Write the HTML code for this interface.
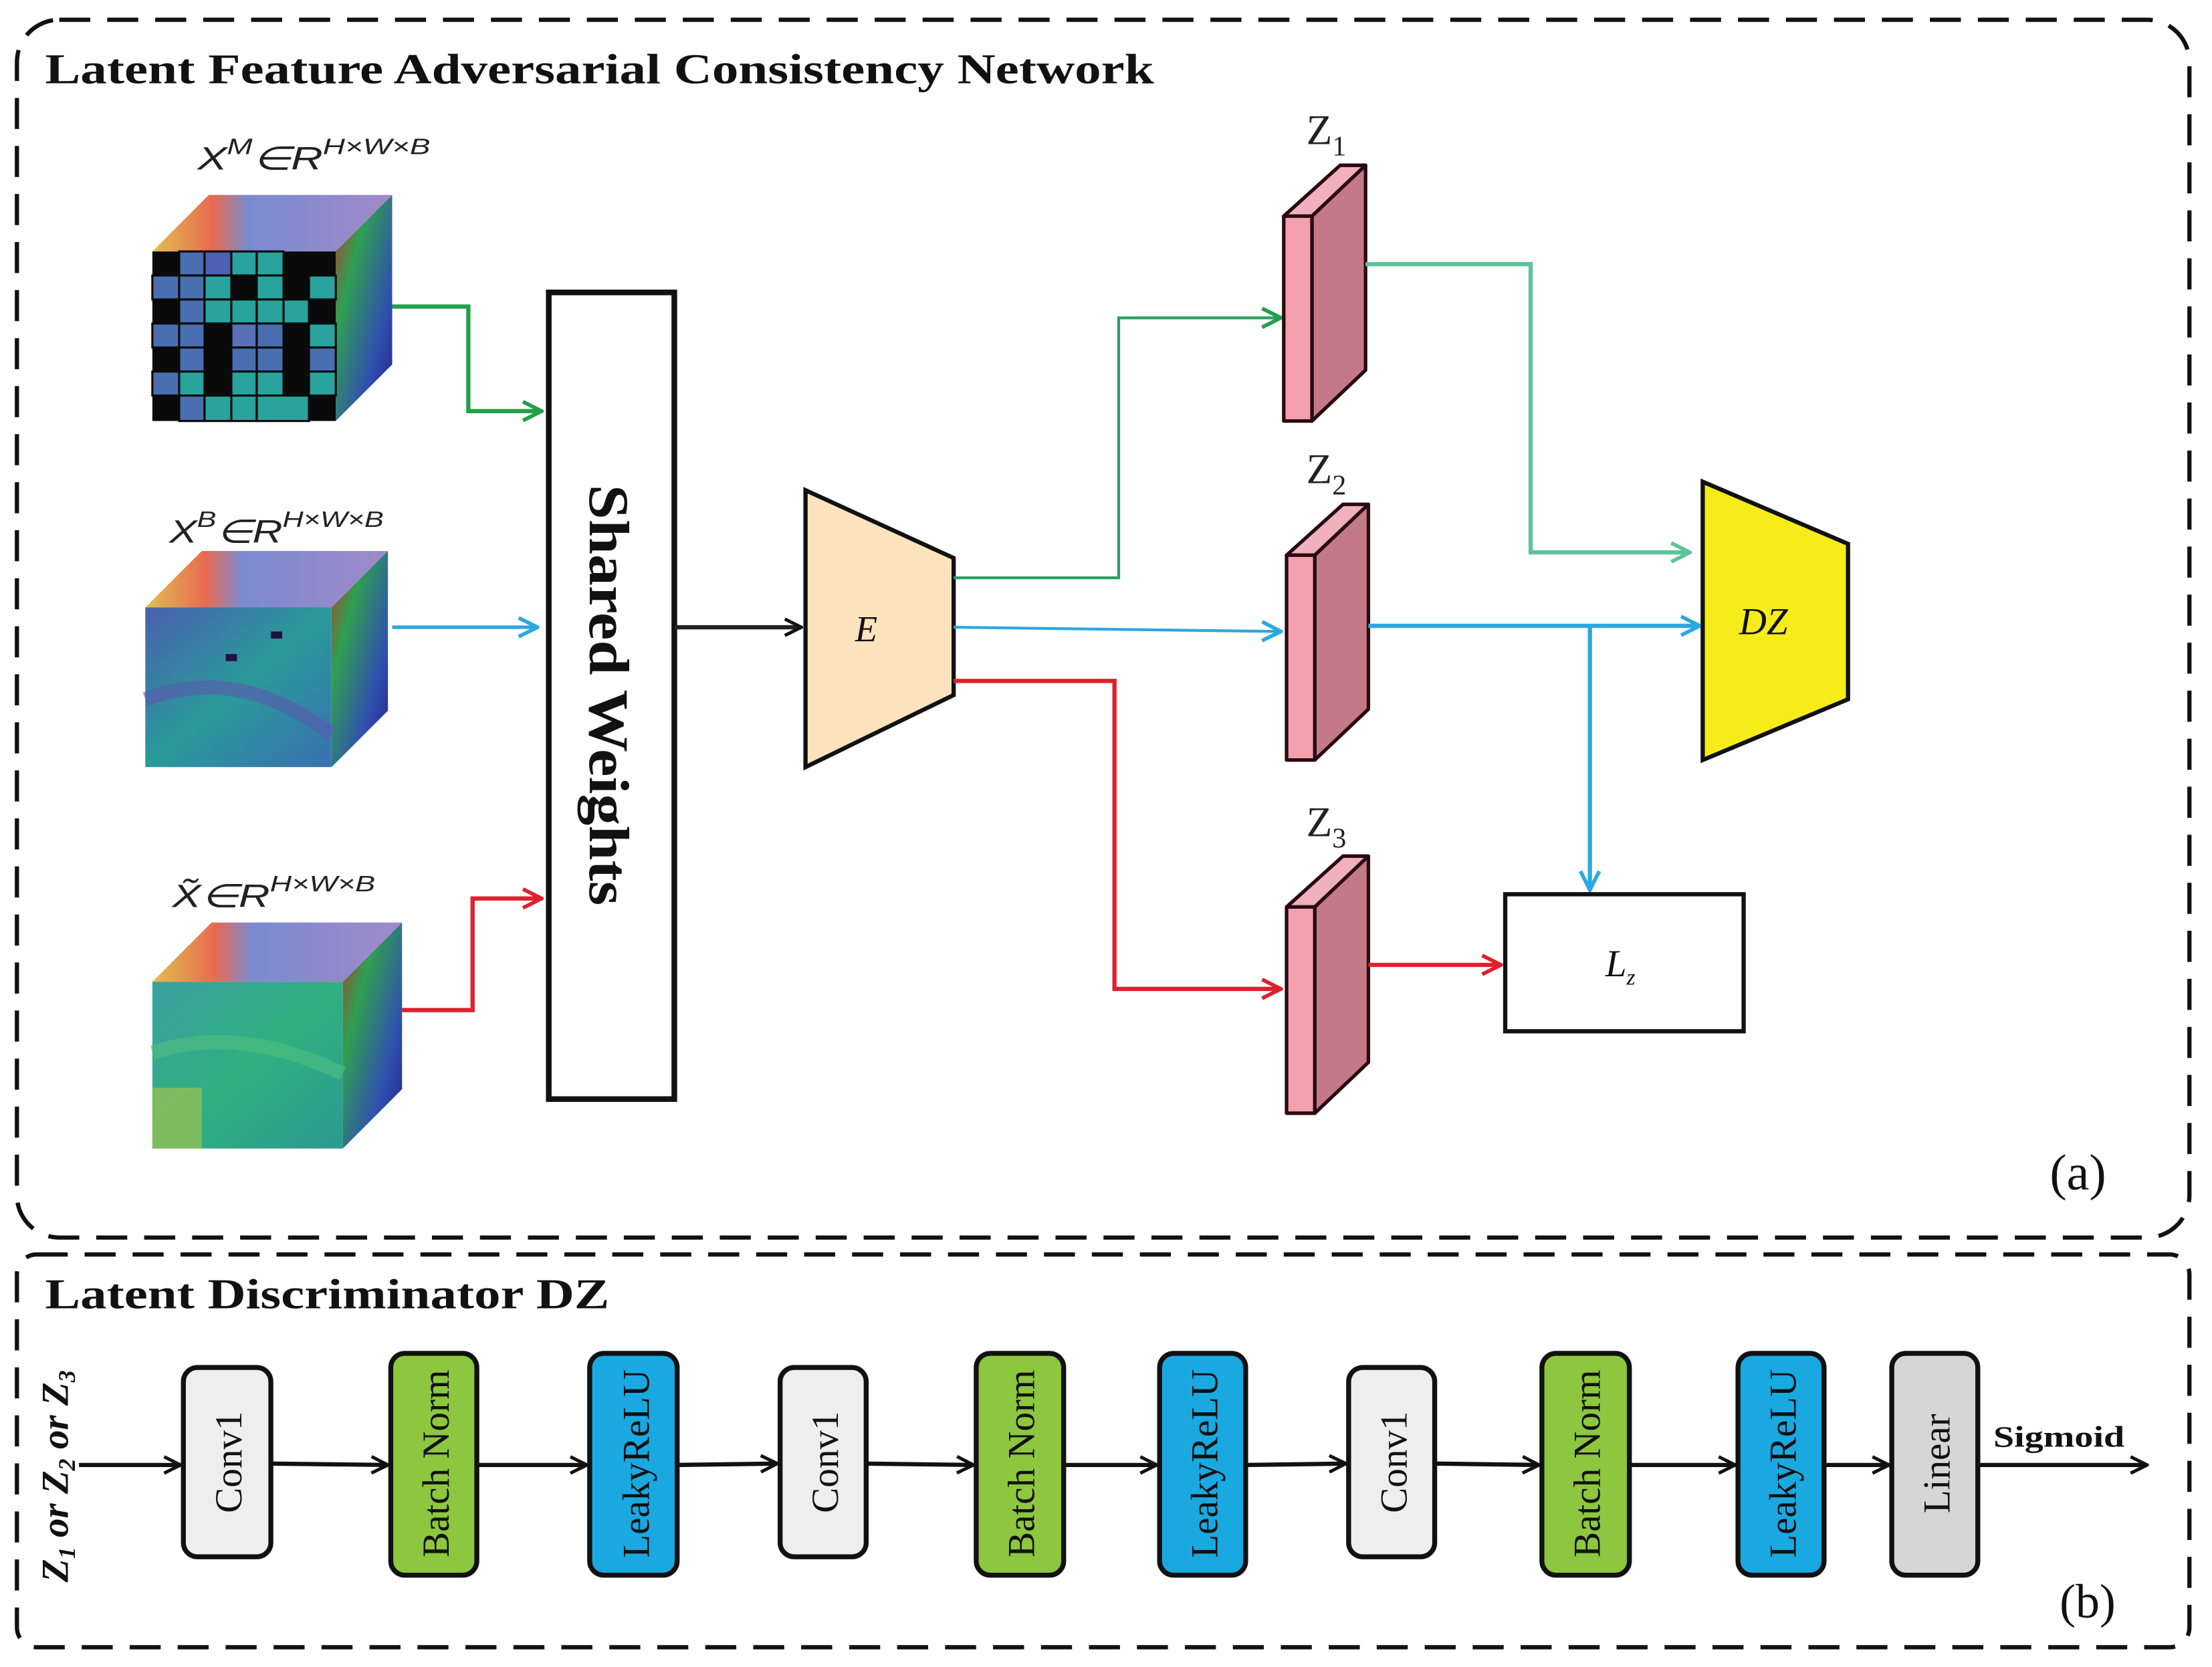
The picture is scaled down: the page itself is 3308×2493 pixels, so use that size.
<!DOCTYPE html>
<html><head><meta charset="utf-8"><style>
html,body{margin:0;padding:0;background:#fff;}
svg{display:block;}
</style></head><body>
<svg width="3308" height="2493" viewBox="0 0 1568 1180" preserveAspectRatio="none" xmlns="http://www.w3.org/2000/svg">
<defs>
<marker id="mk" viewBox="0 0 12 12" refX="11" refY="6" markerWidth="14" markerHeight="14" markerUnits="userSpaceOnUse" orient="auto"><path d="M1,1 L11,6 L1,11" fill="none" stroke="#111" stroke-width="2"/></marker>
<marker id="mg" viewBox="0 0 12 12" refX="11" refY="6" markerWidth="16" markerHeight="16" markerUnits="userSpaceOnUse" orient="auto"><path d="M1,1 L11,6 L1,11" fill="none" stroke="#22a04a" stroke-width="2"/></marker>
<marker id="mt" viewBox="0 0 12 12" refX="11" refY="6" markerWidth="16" markerHeight="16" markerUnits="userSpaceOnUse" orient="auto"><path d="M1,1 L11,6 L1,11" fill="none" stroke="#5cc49a" stroke-width="2"/></marker>
<marker id="mb" viewBox="0 0 12 12" refX="11" refY="6" markerWidth="16" markerHeight="16" markerUnits="userSpaceOnUse" orient="auto"><path d="M1,1 L11,6 L1,11" fill="none" stroke="#2aa8e0" stroke-width="2"/></marker>
<marker id="mr" viewBox="0 0 12 12" refX="11" refY="6" markerWidth="16" markerHeight="16" markerUnits="userSpaceOnUse" orient="auto"><path d="M1,1 L11,6 L1,11" fill="none" stroke="#e0202c" stroke-width="2"/></marker>
<linearGradient id="gtop" x1="0" y1="0" x2="1" y2="0"><stop offset="0" stop-color="#e0c050"/><stop offset="0.25" stop-color="#e86a50"/><stop offset="0.4" stop-color="#7a8ad0"/><stop offset="1" stop-color="#a08ac8"/></linearGradient>
<linearGradient id="gside" x1="0" y1="0" x2="1" y2="1"><stop offset="0" stop-color="#c03030"/><stop offset="0.3" stop-color="#30a050"/><stop offset="0.7" stop-color="#3050b0"/><stop offset="1" stop-color="#202080"/></linearGradient>
<linearGradient id="gf2" x1="0" y1="0" x2="1" y2="1"><stop offset="0" stop-color="#4a60b0"/><stop offset="0.5" stop-color="#2a9a9a"/><stop offset="1" stop-color="#3a70b0"/></linearGradient>
<linearGradient id="gf3" x1="0" y1="0" x2="1" y2="1"><stop offset="0" stop-color="#3aa0a0"/><stop offset="0.5" stop-color="#30b080"/><stop offset="1" stop-color="#2a9a90"/></linearGradient>
</defs>

<rect x="12" y="14" width="1540" height="862" rx="30" fill="none" stroke="#111" stroke-width="3" stroke-dasharray="22,12"/>
<rect x="12" y="888" width="1540" height="278" rx="14" fill="none" stroke="#111" stroke-width="3" stroke-dasharray="22,12"/>
<text x="32" y="59" font-family="Liberation Serif" font-weight="bold" font-size="30" fill="#111" textLength="786" lengthAdjust="spacingAndGlyphs">Latent Feature Adversarial Consistency Network</text>
<text x="32" y="926" font-family="Liberation Serif" font-weight="bold" font-size="30" fill="#111" textLength="400" lengthAdjust="spacingAndGlyphs">Latent Discriminator DZ</text>
<text x="1453" y="842" font-family="Liberation Serif" font-size="36" fill="#111">(a)</text>
<text x="1460" y="1145" font-family="Liberation Serif" font-size="34" fill="#111">(b)</text>

<!-- cube 1 -->
<polygon points="108,178 148,138 278,138 238,178" fill="url(#gtop)"/>
<polygon points="238,178 278,138 278,258 238,298" fill="url(#gside)"/>
<rect x="108" y="178" width="130" height="120" fill="#0a0a0a"/>
<g stroke="#0a0a0a" stroke-width="1.5">
<rect x="127" y="178" width="18" height="17" fill="#4a6fb0"/><rect x="145" y="178" width="19" height="17" fill="#5060b0"/><rect x="164" y="178" width="18" height="17" fill="#2aa39e"/><rect x="182" y="178" width="19" height="17" fill="#2aa39e"/>
<rect x="108" y="195" width="19" height="17" fill="#4a6fb0"/><rect x="127" y="195" width="18" height="17" fill="#4a6fb0"/><rect x="145" y="195" width="19" height="17" fill="#2aa39e"/><rect x="182" y="195" width="19" height="17" fill="#2aa39e"/><rect x="219" y="195" width="19" height="17" fill="#2aa39e"/>
<rect x="127" y="212" width="18" height="17" fill="#4a6fb0"/><rect x="145" y="212" width="19" height="17" fill="#2aa39e"/><rect x="164" y="212" width="18" height="17" fill="#2aa39e"/><rect x="182" y="212" width="19" height="17" fill="#2aa39e"/><rect x="201" y="212" width="18" height="17" fill="#2aa39e"/>
<rect x="108" y="229" width="19" height="17" fill="#4a6fb0"/><rect x="127" y="229" width="18" height="17" fill="#4a6fb0"/><rect x="164" y="229" width="18" height="17" fill="#5a70b8"/><rect x="182" y="229" width="19" height="17" fill="#4a6fb0"/><rect x="219" y="229" width="19" height="17" fill="#2aa39e"/>
<rect x="127" y="246" width="18" height="17" fill="#4a6fb0"/><rect x="164" y="246" width="18" height="17" fill="#4a6fb0"/><rect x="182" y="246" width="19" height="17" fill="#4a6fb0"/><rect x="219" y="246" width="19" height="17" fill="#4a6fb0"/>
<rect x="108" y="263" width="19" height="17" fill="#4a6fb0"/><rect x="127" y="263" width="18" height="17" fill="#2aa39e"/><rect x="164" y="263" width="18" height="17" fill="#2aa39e"/><rect x="182" y="263" width="19" height="17" fill="#2aa39e"/><rect x="219" y="263" width="19" height="17" fill="#2aa39e"/>
<rect x="127" y="280" width="18" height="18" fill="#4a6fb0"/><rect x="145" y="280" width="19" height="18" fill="#2aa39e"/><rect x="164" y="280" width="18" height="18" fill="#2aa39e"/><rect x="182" y="280" width="37" height="18" fill="#2aa39e"/>
</g>
<text x="140" y="120" font-family="Liberation Sans" font-style="italic" font-size="23" fill="#222" textLength="165" lengthAdjust="spacingAndGlyphs">X<tspan font-size="16" dy="-11">M</tspan><tspan dy="11">∈R</tspan><tspan font-size="16" dy="-11">H×W×B</tspan></text>

<!-- cube 2 -->
<polygon points="103,430 143,390 275,390 235,430" fill="url(#gtop)"/>
<polygon points="235,430 275,390 275,503 235,543" fill="url(#gside)"/>
<rect x="103" y="430" width="132" height="113" fill="url(#gf2)"/>
<path d="M103,495 Q170,470 235,520" stroke="#5a5ab0" stroke-width="10" fill="none" opacity="0.6"/>
<rect x="160" y="463" width="8" height="5" fill="#201040"/><rect x="192" y="447" width="8" height="5" fill="#201040"/>
<text x="120" y="384" font-family="Liberation Sans" font-style="italic" font-size="23" fill="#222" textLength="152" lengthAdjust="spacingAndGlyphs">X<tspan font-size="16" dy="-11">B</tspan><tspan dy="11">∈R</tspan><tspan font-size="16" dy="-11">H×W×B</tspan></text>

<!-- cube 3 -->
<polygon points="108,695 150,653 285,653 243,695" fill="url(#gtop)"/>
<polygon points="243,695 285,653 285,771 243,813" fill="url(#gside)"/>
<rect x="108" y="695" width="135" height="118" fill="url(#gf3)"/>
<path d="M108,745 Q170,725 243,760" stroke="#50c080" stroke-width="10" fill="none" opacity="0.6"/>
<rect x="108" y="770" width="35" height="43" fill="#a0c050" opacity="0.7"/>
<text x="122" y="642" font-family="Liberation Sans" font-style="italic" font-size="23" fill="#222" textLength="144" lengthAdjust="spacingAndGlyphs">X̃∈R<tspan font-size="16" dy="-11">H×W×B</tspan></text>

<rect x="389" y="207" width="89" height="571" fill="#fff" stroke="#111" stroke-width="4"/>
<text transform="translate(418,492) rotate(90)" text-anchor="middle" font-family="Liberation Serif" font-weight="bold" font-size="40" fill="#111" textLength="298" lengthAdjust="spacingAndGlyphs">Shared Weights</text>

<polyline points="278,217 332,217 332,291 384,291" fill="none" stroke="#22a04a" stroke-width="3" marker-end="url(#mg)"/>
<line x1="278" y1="444" x2="381" y2="444" stroke="#2aa8e0" stroke-width="2.5" marker-end="url(#mb)"/>
<polyline points="285,715 335,715 335,636 384,636" fill="none" stroke="#e0202c" stroke-width="3" marker-end="url(#mr)"/>
<line x1="478" y1="444" x2="568" y2="444" stroke="#222" stroke-width="3" marker-end="url(#mk)"/>

<polygon points="571,347 676,395 676,492 571,543" fill="#fde3bd" stroke="#111" stroke-width="3"/>
<text x="614" y="454" text-anchor="middle" font-family="Liberation Serif" font-style="italic" font-size="26" fill="#111">E</text>

<polyline points="676,409 793,409 793,225 908,225" fill="none" stroke="#2aa060" stroke-width="2" marker-end="url(#mg)"/>
<line x1="676" y1="444" x2="908" y2="447" stroke="#2aa8e0" stroke-width="2" marker-end="url(#mb)"/>
<polyline points="676,482 790,482 790,700 908,700" fill="none" stroke="#e0202c" stroke-width="3" marker-end="url(#mr)"/>

<g stroke="#2a0a10" stroke-width="2.5" stroke-linejoin="round">
<polygon points="910,153 950,117 968,117 930,153" fill="#f0b0bc"/>
<polygon points="930,153 968,117 968,262 930,298" fill="#c47a86"/>
<rect x="910" y="153" width="20" height="145" fill="#f2a0ae"/>
<polygon points="912,393 952,357 970,357 932,393" fill="#f0b0bc"/>
<polygon points="932,393 970,357 970,502 932,538" fill="#c47a86"/>
<rect x="912" y="393" width="20" height="145" fill="#f2a0ae"/>
<polygon points="912,642 952,606 970,606 932,642" fill="#f0b0bc"/>
<polygon points="932,642 970,606 970,752 932,788" fill="#c47a86"/>
<rect x="912" y="642" width="20" height="146" fill="#f2a0ae"/>
</g>
<text x="926" y="102" font-family="Liberation Serif" font-size="30" fill="#222">Z<tspan font-size="20" dy="8">1</tspan></text>
<text x="926" y="342" font-family="Liberation Serif" font-size="30" fill="#222">Z<tspan font-size="20" dy="8">2</tspan></text>
<text x="926" y="592" font-family="Liberation Serif" font-size="30" fill="#222">Z<tspan font-size="20" dy="8">3</tspan></text>

<polyline points="968,187 1085,187 1085,391 1198,391" fill="none" stroke="#5cc49a" stroke-width="3" marker-end="url(#mt)"/>
<line x1="970" y1="443" x2="1205" y2="443" stroke="#2aa8e0" stroke-width="3" marker-end="url(#mb)"/>
<line x1="1127" y1="443" x2="1127" y2="630" stroke="#2aa8e0" stroke-width="3" marker-end="url(#mb)"/>
<line x1="970" y1="683" x2="1064" y2="683" stroke="#e0202c" stroke-width="3" marker-end="url(#mr)"/>

<polygon points="1207,341 1310,385 1310,495 1207,538" fill="#f5ec1a" stroke="#111" stroke-width="3"/>
<text x="1250" y="449" text-anchor="middle" font-family="Liberation Serif" font-style="italic" font-size="27" fill="#111">DZ</text>

<rect x="1067" y="633" width="169" height="97" fill="#fff" stroke="#111" stroke-width="3"/>
<text x="1138" y="691" font-family="Liberation Serif" font-style="italic" font-size="27" fill="#111">L<tspan font-size="16" dy="6">z</tspan></text>

<text transform="translate(48,1045) rotate(-90)" text-anchor="middle" font-family="Liberation Serif" font-weight="bold" font-style="italic" font-size="27" fill="#111">Z<tspan font-size="17" dy="5">1</tspan><tspan dy="-5"> or Z</tspan><tspan font-size="17" dy="5">2</tspan><tspan dy="-5"> or Z</tspan><tspan font-size="17" dy="5">3</tspan></text>
<g stroke="#111" stroke-width="3" marker-end="url(#mk)">
<line x1="56" y1="1037" x2="128" y2="1037"/>
<line x1="192" y1="1036" x2="275" y2="1037"/>
<line x1="338" y1="1037" x2="416" y2="1037"/>
<line x1="480" y1="1037" x2="551" y2="1036"/>
<line x1="614" y1="1036" x2="690" y2="1037"/>
<line x1="754" y1="1037" x2="820" y2="1037"/>
<line x1="883" y1="1037" x2="954" y2="1036"/>
<line x1="1017" y1="1036" x2="1091" y2="1037"/>
<line x1="1155" y1="1037" x2="1230" y2="1037"/>
<line x1="1293" y1="1037" x2="1339" y2="1037"/>
<line x1="1402" y1="1037" x2="1522" y2="1037"/>
</g>
<text x="1413" y="1024" font-family="Liberation Serif" font-weight="bold" font-size="21" fill="#111" textLength="93" lengthAdjust="spacingAndGlyphs">Sigmoid</text>
<g stroke="#111" stroke-width="3.5">
<rect x="130" y="968" width="62" height="134" rx="10" fill="#eeeeee"/>
<rect x="277" y="958" width="61" height="157" rx="10" fill="#8dc63f"/>
<rect x="418" y="958" width="62" height="157" rx="10" fill="#1aa8e0"/>
<rect x="553" y="968" width="61" height="134" rx="10" fill="#eeeeee"/>
<rect x="692" y="958" width="62" height="157" rx="10" fill="#8dc63f"/>
<rect x="822" y="958" width="61" height="157" rx="10" fill="#1aa8e0"/>
<rect x="956" y="968" width="61" height="134" rx="10" fill="#eeeeee"/>
<rect x="1093" y="958" width="62" height="157" rx="10" fill="#8dc63f"/>
<rect x="1232" y="958" width="61" height="157" rx="10" fill="#1aa8e0"/>
<rect x="1341" y="958" width="61" height="157" rx="10" fill="#d6d6d6"/>
</g>
<g font-family="Liberation Serif" font-size="27" text-anchor="middle" fill="#111">
<text transform="translate(171,1035) rotate(-90)">Conv1</text>
<text transform="translate(318,1036) rotate(-90)">Batch Norm</text>
<text transform="translate(460,1036) rotate(-90)">LeakyReLU</text>
<text transform="translate(594,1035) rotate(-90)">Conv1</text>
<text transform="translate(733,1036) rotate(-90)">Batch Norm</text>
<text transform="translate(863,1036) rotate(-90)">LeakyReLU</text>
<text transform="translate(997,1035) rotate(-90)">Conv1</text>
<text transform="translate(1134,1036) rotate(-90)">Batch Norm</text>
<text transform="translate(1273,1036) rotate(-90)">LeakyReLU</text>
<text transform="translate(1382,1036) rotate(-90)">Linear</text>
</g>
</svg>
</body></html>
